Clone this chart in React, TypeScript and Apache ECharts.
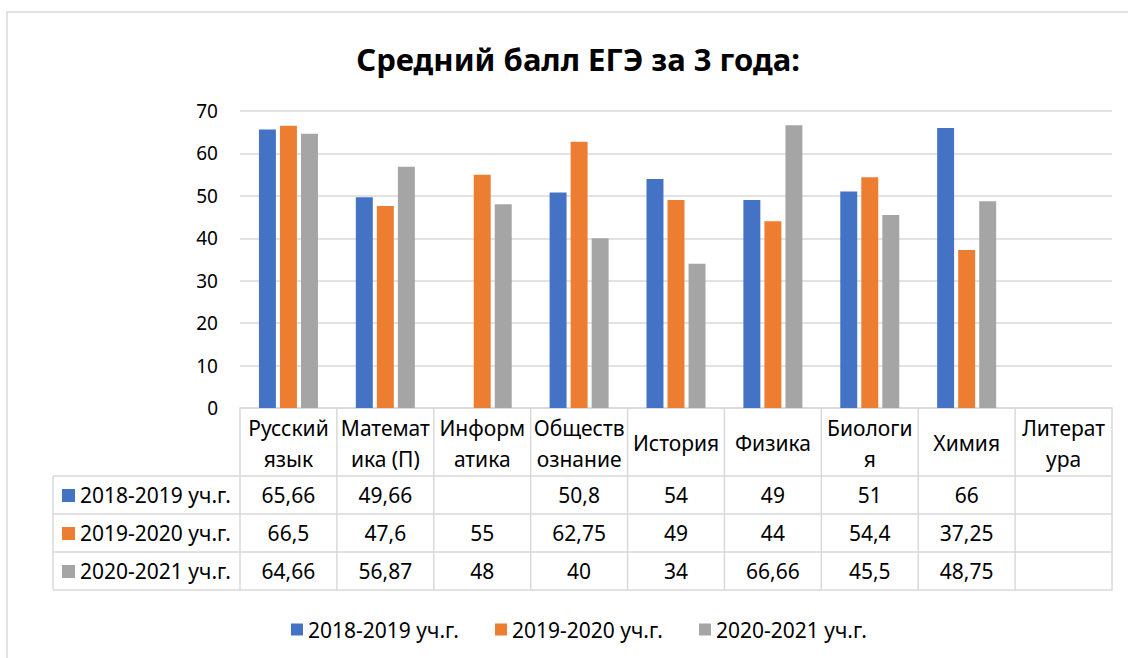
import React, { useEffect, useRef } from "react";
import * as echarts from "echarts";

const TITLE = "Средний балл ЕГЭ за 3 года:";
const categories = [
  "Русский\nязык",
  "Математ\nика (П)",
  "Информ\nатика",
  "Обществ\nознание",
  "История",
  "Физика",
  "Биологи\nя",
  "Химия",
  "Литерат\nура",
];
const seriesNames = ["2018-2019 уч.г.", "2019-2020 уч.г.", "2020-2021 уч.г."];
const s2018 = [65.66, 49.66, null, 50.8, 54, 49, 51, 66, null];
const s2019 = [66.5, 47.6, 55, 62.75, 49, 44, 54.4, 37.25, null];
const s2020 = [64.66, 56.87, 48, 40, 34, 66.66, 45.5, 48.75, null];
const yTicks = [0, 10, 20, 30, 40, 50, 60, 70];

const colors = ["#4472C4", "#ED7D31", "#A5A5A5"];
const FONT = "'Noto Sans', 'DejaVu Sans', sans-serif";
const GRID_L = 240;
const GRID_R = 1112;
const GRID_T = 111;
const GRID_B = 408;
const TAB_L = 53;
const HEAD_B = 476;
const ROW_H = 38;
const LINE = "#D9D9D9";
const TFS = 21;

function fmt(v: number | null) {
  return v === null ? "" : String(v).replace(".", ",");
}

export default function App() {
  const ref = useRef<HTMLDivElement>(null);
  useEffect(() => {
    if (!ref.current) return;
    const chart = echarts.init(ref.current, undefined, { renderer: "svg" });
    const allSeries = [s2018, s2019, s2020];
    const n = categories.length;
    const colW = (GRID_R - GRID_L) / n;
    const tabBottom = HEAD_B + ROW_H * allSeries.length;
    const g: any[] = [];
    const ln = (x1: number, y1: number, x2: number, y2: number) => ({
      type: "line",
      silent: true,
      shape: { x1, y1, x2, y2 },
      style: { stroke: LINE, lineWidth: 1.5 },
    });
    // chart frame
    g.push({
      type: "rect",
      silent: true,
      shape: { x: 7, y: 12, width: 1150, height: 690 },
      style: { fill: "none", stroke: LINE, lineWidth: 1.5 },
    });
    // vertical table lines
    for (let i = 0; i <= n; i++) {
      const x = GRID_L + i * colW;
      g.push(ln(x, GRID_B, x, tabBottom));
    }
    g.push(ln(TAB_L, HEAD_B, TAB_L, tabBottom));
    for (let r = 0; r <= allSeries.length; r++) {
      const y = HEAD_B + r * ROW_H;
      g.push(ln(TAB_L, y, GRID_R, y));
    }
    // header texts
    categories.forEach((c, i) => {
      g.push({
        type: "text",
        silent: true,
        x: GRID_L + (i + 0.5) * colW,
        y: (GRID_B + HEAD_B) / 2 + 1,
        style: {
          text: c,
          align: "center",
          verticalAlign: "middle",
          fontSize: TFS,
          fontFamily: FONT,
          lineHeight: 31,
          fill: "#000",
        },
      });
    });
    // rows
    allSeries.forEach((arr, r) => {
      const cy = HEAD_B + (r + 0.5) * ROW_H;
      g.push({
        type: "rect",
        silent: true,
        shape: { x: 62, y: cy - 6, width: 13, height: 13 },
        style: { fill: colors[r] },
      });
      g.push({
        type: "text",
        silent: true,
        x: 80,
        y: cy,
        style: {
          text: seriesNames[r],
          align: "left",
          verticalAlign: "middle",
          fontSize: TFS,
          fontFamily: FONT,
          fill: "#000",
        },
      });
      arr.forEach((v, i) => {
        if (v === null) return;
        g.push({
          type: "text",
          silent: true,
          x: GRID_L + (i + 0.5) * colW,
          y: cy,
          style: {
            text: fmt(v),
            align: "center",
            verticalAlign: "middle",
            fontSize: TFS,
            fontFamily: FONT,
            fill: "#000",
          },
        });
      });
    });

    chart.setOption({
      animation: false,
      backgroundColor: "#fff",
      color: colors,
      textStyle: { fontFamily: FONT },
      title: {
        text: TITLE,
        left: 573,
        top: 38,
        textAlign: "center",
        textStyle: { fontSize: 31, fontWeight: "bold", color: "#000", fontFamily: FONT },
      },
      legend: {
        data: seriesNames,
        top: 614,
        left: 286,
        icon: "rect",
        itemWidth: 12,
        itemHeight: 12,
        itemGap: 36,
        textStyle: { fontSize: TFS, color: "#000", fontFamily: FONT },
      },
      grid: {
        left: GRID_L,
        right: 1128 - GRID_R,
        top: GRID_T,
        bottom: 658 - GRID_B,
        containLabel: false,
      },
      xAxis: {
        type: "category",
        data: categories,
        axisLine: { show: true, lineStyle: { color: LINE, width: 1.5 } },
        axisTick: { show: false },
        axisLabel: { show: false },
      },
      yAxis: {
        type: "value",
        min: yTicks[0],
        max: yTicks[yTicks.length - 1],
        interval: 10,
        axisLine: { show: false },
        axisTick: { show: false },
        axisLabel: { fontSize: 19, color: "#000", margin: 22, fontFamily: FONT },
        splitLine: { lineStyle: { color: LINE, width: 1.5 } },
      },
      series: allSeries.map((arr, i) => ({
        name: seriesNames[i],
        type: "bar",
        data: arr,
        barWidth: "17.5%",
        barGap: "24%",
      })),
      graphic: g,
    });
    return () => chart.dispose();
  }, []);
  return (
    <div
      ref={ref}
      style={{ position: "absolute", left: 0, top: 0, width: 1128, height: 658 }}
    />
  );
}
